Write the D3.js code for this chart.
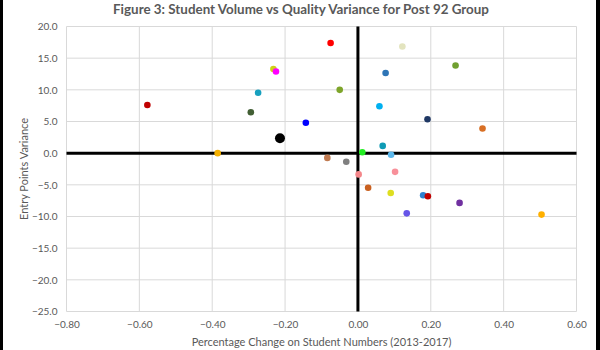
<!DOCTYPE html>
<html>
<head>
<meta charset="utf-8">
<script src="https://cdn.jsdelivr.net/npm/d3@7"></script>
<style>
  html, body { margin: 0; padding: 0; background: #fff; }
  svg { display: block; }
  text { font-family: Lato, "Open Sans", sans-serif; fill: #595959; }
</style>
</head>
<body>
<script>
const title = "Figure 3: Student Volume vs Quality Variance for Post 92 Group";
const xTitle = "Percentage Change on Student Numbers (2013-2017)";
const yTitle = "Entry Points Variance";
const xTicks = [-0.8, -0.6, -0.4, -0.2, 0, 0.2, 0.4, 0.6];
const yTicks = [20, 15, 10, 5, 0, -5, -10, -15, -20, -25];

const studentChange = [-0.578, -0.274, -0.294, -0.385, -0.075, -0.232, -0.225, -0.050, -0.143, -0.214,
  -0.084, -0.032, 0.012, 0.076, 0.059, 0.068, 0.091, 0.122, 0.268, 0.191,
  0.342, 0.002, 0.102, 0.028, 0.090, 0.179, 0.192, 0.279, 0.134, 0.504];
const entryVariance = [7.6, 9.55, 6.45, 0.0, 17.4, 13.3, 12.9, 10.0, 4.8, 2.35,
  -0.75, -1.35, 0.15, 12.65, 7.4, 1.15, -0.25, 16.85, 13.85, 5.35,
  3.9, -3.35, -2.95, -5.45, -6.3, -6.65, -6.8, -7.85, -9.5, -9.7];
const pointColors = ["#c00000", "#17a0be", "#425f34", "#f5b000", "#ff0000", "#cfd116", "#ff00ff", "#7ea52a", "#0000ff", "#000000",
  "#c07a50", "#7f7f7f", "#22ee22", "#2e75b6", "#00b0f0", "#0f9bb5", "#5cb8ec", "#e3e4bf", "#70a030", "#1f3864",
  "#d86f24", "#f4868a", "#f8909a", "#c9601f", "#dede20", "#2e80d0", "#c00000", "#7030a0", "#6655e8", "#ffb000"];
const highlightIndex = 9;

const W = 600, H = 350;
const svg = d3.select("body").append("svg").attr("width", W).attr("height", H);
svg.append("rect").attr("width", W).attr("height", H).attr("fill", "#fff");

const x = d3.scaleLinear().domain([-0.8, 0.6]).range([66.5, 576.5]);
const y = d3.scaleLinear().domain([-25, 20]).range([311.5, 26.5]);

// gridlines
const grid = svg.append("g");
grid.selectAll("line.v").data(xTicks).join("line")
  .attr("x1", d => x(d)).attr("x2", d => x(d))
  .attr("y1", y(20)).attr("y2", y(-25))
  .attr("stroke", "#d9d9d9").attr("stroke-width", 1);
grid.selectAll("line.h").data(yTicks).join("line")
  .attr("y1", d => y(d)).attr("y2", d => y(d))
  .attr("x1", x(-0.8)).attr("x2", x(0.6))
  .attr("stroke", "#d9d9d9").attr("stroke-width", 1);

// axes via d3
const xAxis = svg.append("g").attr("transform", `translate(0,${y(-25)})`)
  .call(d3.axisBottom(x).tickValues(xTicks).tickFormat(d3.format(".2f")).tickSize(0).tickPadding(9));
xAxis.select(".domain").remove();
xAxis.selectAll("text").style("font-size", "10px").attr("fill", "#595959");

const yAxis = svg.append("g").attr("transform", `translate(${x(-0.8)},0)`)
  .call(d3.axisLeft(y).tickValues(yTicks).tickFormat(d3.format(".1f")).tickSize(0).tickPadding(9));
yAxis.select(".domain").remove();
yAxis.selectAll("text").style("font-size", "10px").attr("fill", "#595959");

// zero lines
svg.append("line").attr("x1", x(-0.8)).attr("x2", x(0.6)).attr("y1", y(0)).attr("y2", y(0))
  .attr("stroke", "#000").attr("stroke-width", 3);
svg.append("line").attr("x1", x(0)).attr("x2", x(0)).attr("y1", y(20)).attr("y2", y(-25))
  .attr("stroke", "#000").attr("stroke-width", 3);

// points
const pts = studentChange.map((v, i) => ({ x: v, y: entryVariance[i], c: pointColors[i], big: i === highlightIndex }));
svg.append("g").selectAll("circle").data(pts).join("circle")
  .attr("cx", d => x(d.x)).attr("cy", d => y(d.y))
  .attr("r", d => d.big ? 5 : 3.3)
  .attr("fill", d => d.c);

// titles
svg.append("text").attr("x", 301).attr("y", 14).attr("text-anchor", "middle")
  .style("font-size", "13.4px").style("font-weight", "bold").text(title);
svg.append("text").attr("x", 321.5).attr("y", 346).attr("text-anchor", "middle")
  .style("font-size", "11px").text(xTitle);
svg.append("text").attr("transform", `translate(28,169) rotate(-90)`).attr("text-anchor", "middle")
  .style("font-size", "11px").text(yTitle);

// side frame bars
svg.append("rect").attr("x", 0).attr("y", 0).attr("width", 3).attr("height", H).attr("fill", "#000");
svg.append("rect").attr("x", 596).attr("y", 0).attr("width", 4).attr("height", H).attr("fill", "#000");
</script>
</body>
</html>
